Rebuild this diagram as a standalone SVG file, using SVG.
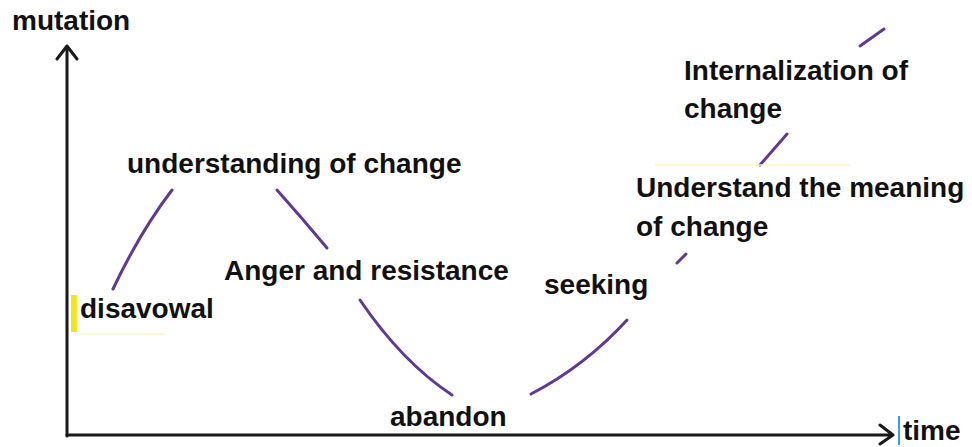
<svg xmlns="http://www.w3.org/2000/svg" width="972" height="447" viewBox="0 0 972 447">
<style>
.lbl{font-family:"Liberation Sans",Arial,sans-serif;font-weight:bold;font-size:28px;fill:#111}
.axis{stroke:#1a1a1a;stroke-width:3;fill:none;stroke-linecap:round;stroke-linejoin:round}
.curve{stroke:#5e3a93;stroke-width:3;fill:none;stroke-linecap:round}
</style>
<rect width="972" height="447" fill="#fff"/>
<g id="axes">
<path class="axis" d="M67,436 L67,46 M57,59 L67,46 L77,59"/>
<path class="axis" d="M67,435 L893,435 M880,425 L893,435 L880,444"/>
</g>
<g id="curve">
<path class="curve" d="M113,289 Q140,232 172,190"/>
<path class="curve" d="M277,190 Q302,218 327,248"/>
<path class="curve" d="M360,300 Q402,362 452,395"/>
<path class="curve" d="M531,394 Q585,366 627,320"/>
<path class="curve" d="M677,263 L686,254"/>
<path class="curve" d="M760,165 L787,134"/>
<path class="curve" d="M860,46 L884,29"/>
</g>
<g id="marks">
<rect x="71" y="295" width="6" height="37" fill="#f5e61a"/>
<line x1="655" y1="165" x2="850" y2="165" stroke="#fbf6c8" stroke-width="1.5"/>
<line x1="80" y1="334" x2="165" y2="334" stroke="#fbf6c8" stroke-width="1.5"/>
<line x1="899" y1="416" x2="899" y2="445" stroke="#35a0e0" stroke-width="2"/>
</g>
<g id="label-mutation"><text class="lbl" x="12" y="30">mutation</text></g>
<g id="label-time"><text class="lbl" x="903" y="440">time</text></g>
<g id="node-disavowal"><text class="lbl" x="80" y="318">disavowal</text></g>
<g id="node-understanding"><text class="lbl" x="127" y="173">understanding of change</text></g>
<g id="node-anger"><text class="lbl" x="224" y="280">Anger and resistance</text></g>
<g id="node-abandon"><text class="lbl" x="390" y="426">abandon</text></g>
<g id="node-seeking"><text class="lbl" x="544" y="294">seeking</text></g>
<g id="node-meaning"><text class="lbl" x="636" y="197">Understand the meaning</text><text class="lbl" x="636" y="236">of change</text></g>
<g id="node-internalization"><text class="lbl" x="684" y="80">Internalization of</text><text class="lbl" x="684" y="118">change</text></g>
</svg>
